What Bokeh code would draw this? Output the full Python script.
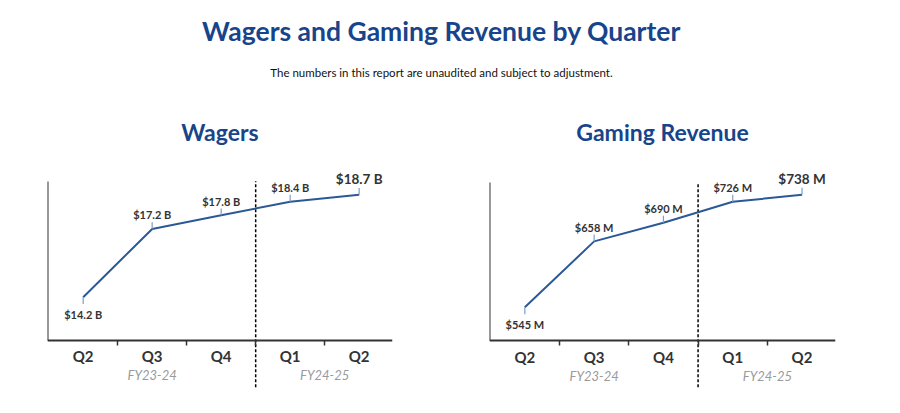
from bokeh.plotting import figure
from bokeh.models import Range1d, LinearAxis, FixedTicker, Title
from bokeh.layouts import column, row
from bokeh.embed import file_html
from bokeh.resources import INLINE
from bokeh.core.properties import value

# ---------------- data ----------------
quarters = ["Q2", "Q3", "Q4", "Q1", "Q2"]
fiscal_years = ["FY23-24", "FY23-24", "FY23-24", "FY24-25", "FY24-25"]
wagers = [14.2, 17.2, 17.8, 18.4, 18.7]
wager_labels = ["$14.2 B", "$17.2 B", "$17.8 B", "$18.4 B", "$18.7 B"]
revenue = [545, 658, 690, 726, 738]
revenue_labels = ["$545 M", "$658 M", "$690 M", "$726 M", "$738 M"]

main_title = "Wagers and Gaming Revenue by Quarter"
sub_title = "The numbers in this report are unaudited and subject to adjustment."

BLUE = "#17448a"
LINE = "#2b5896"
LEADER = "#7f9fcc"
DARK = "#333333"
FONT = "Lato"


def make_panel(title, values, labels, x_rng, y_rng, axis_y, axis_top, leader_len,
               border_left, border_right):
    p = figure(width=450, height=313, x_range=Range1d(*x_rng), y_range=Range1d(*y_rng),
               x_axis_type=None, y_axis_type=None, toolbar_location=None,
               output_backend="svg", outline_line_color=None,
               min_border_left=border_left, min_border_right=border_right,
               min_border_top=60, min_border_bottom=18)
    p.title = Title(text=title, align="center", text_font=FONT, text_font_size="23px",
                    text_font_style="bold", text_color=BLUE, standoff=29)

    idx = list(range(len(values)))

    # quarter axis
    qaxis = LinearAxis(ticker=FixedTicker(ticks=idx, minor_ticks=[i + 0.5 for i in idx[:-1]]),
                       major_label_overrides={i: q for i, q in zip(idx, quarters)},
                       fixed_location=axis_y, bounds=x_rng)
    qaxis.axis_line_color = DARK
    qaxis.axis_line_width = 2
    qaxis.major_tick_line_color = None
    qaxis.minor_tick_line_color = DARK
    qaxis.minor_tick_line_width = 1.5
    qaxis.minor_tick_out = 5
    qaxis.minor_tick_in = 0
    qaxis.major_label_standoff = 1
    qaxis.major_label_text_font = FONT
    qaxis.major_label_text_font_style = "bold"
    qaxis.major_label_text_font_size = "15px"
    qaxis.major_label_text_color = DARK
    p.add_layout(qaxis, "below")

    # fiscal-year axis (group labels)
    groups = []
    for fy in dict.fromkeys(fiscal_years):
        members = [i for i, f in zip(idx, fiscal_years) if f == fy]
        groups.append((sum(members) / len(members), fy))
    fyaxis = LinearAxis(ticker=FixedTicker(ticks=[g[0] for g in groups]),
                        major_label_overrides={g[0]: g[1] for g in groups},
                        fixed_location=axis_y)
    fyaxis.axis_line_color = None
    fyaxis.major_tick_line_color = None
    fyaxis.minor_tick_line_color = None
    fyaxis.major_label_standoff = 21
    fyaxis.major_label_text_font = FONT
    fyaxis.major_label_text_font_style = "italic"
    fyaxis.major_label_text_font_size = "13px"
    fyaxis.major_label_text_color = "#9a9a9a"
    p.add_layout(fyaxis, "below")

    yaxis = LinearAxis(ticker=FixedTicker(ticks=[]), fixed_location=x_rng[0],
                       bounds=(axis_y, axis_top))
    yaxis.axis_line_color = DARK
    yaxis.axis_line_width = 2
    yaxis.major_tick_line_color = None
    yaxis.minor_tick_line_color = None
    p.add_layout(yaxis, "left")

    # fiscal year divider
    split = fiscal_years.index(fiscal_years[-1]) - 0.5
    p.segment(x0=[split], y0=[y_rng[0] + (axis_y - y_rng[0]) * 0.15], x1=[split], y1=[axis_top],
              line_color="black", line_width=1.5, line_dash="3 2")

    # series line
    p.line(idx, values, line_color=LINE, line_width=2)

    # leaders
    ys = [values[0] - leader_len] + [v + leader_len for v in values[1:]]
    p.segment(x0=idx, y0=values, x1=idx, y1=ys, line_color=LEADER, line_width=1.2)

    # value labels
    common = dict(text_align="center", text_baseline="middle", text_font=value(FONT),
                  text_font_style="bold", text_color=DARK)
    p.text(x=idx[:1], y=values[:1], text=labels[:1], y_offset=17,
           text_font_size="11px", **common)
    p.text(x=idx[1:-1], y=values[1:-1], text=labels[1:-1], y_offset=-14,
           text_font_size="11px", **common)
    p.text(x=idx[-1:], y=values[-1:], text=labels[-1:], y_offset=-16,
           text_font_size="13.5px", **common)
    return p


header = figure(width=882, height=100, x_range=(0, 1), y_range=(0, 1),
                x_axis_type=None, y_axis_type=None, toolbar_location=None,
                output_backend="svg", outline_line_color=None, min_border=0)
header.add_layout(Title(text=sub_title, align="center", text_font=FONT,
                        text_font_size="11.5px", text_font_style="normal",
                        text_color="#111111", standoff=11), "above")
header.add_layout(Title(text=main_title, align="center", text_font=FONT,
                        text_font_size="26.5px", text_font_style="bold",
                        text_color=BLUE, standoff=24), "above")

left = make_panel("Wagers", wagers, wager_labels,
                  x_rng=(-0.517, 4.483), y_rng=(9.88, 20.21),
                  axis_y=12.3, axis_top=19.3, leader_len=0.3,
                  border_left=47, border_right=58)
right = make_panel("Gaming Revenue", revenue, revenue_labels,
                   x_rng=(-0.51, 4.483), y_rng=(393.4, 796.9),
                   axis_y=487.8, axis_top=759.6, leader_len=12.0,
                   border_left=39, border_right=65)

layout = column(header, row(left, right))
open("out.html", "w").write(file_html(layout, INLINE))
